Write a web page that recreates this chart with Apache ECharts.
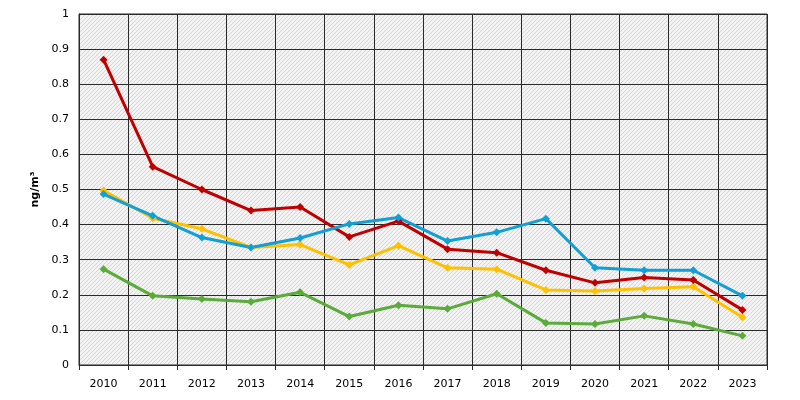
<!DOCTYPE html>
<html><head><meta charset="utf-8">
<script src="https://cdn.jsdelivr.net/npm/echarts@6/dist/echarts.min.js"></script>
<style>html,body{margin:0;padding:0;background:#fff}#c{width:800px;height:400px}</style>
</head><body><div id="c"></div>
<script>
const years = ['2010','2011','2012','2013','2014','2015','2016','2017','2018','2019','2020','2021','2022','2023'];
const redValues = [0.87,0.565,0.50,0.44,0.45,0.365,0.41,0.33,0.32,0.27,0.234,0.249,0.242,0.157];
const blueValues = [0.487,0.425,0.363,0.335,0.362,0.402,0.42,0.353,0.378,0.417,0.277,0.27,0.27,0.197];
const yellowValues = [0.497,0.418,0.388,0.335,0.343,0.285,0.34,0.277,0.273,0.214,0.211,0.218,0.223,0.136];
const greenValues = [0.273,0.197,0.188,0.18,0.207,0.138,0.17,0.16,0.203,0.12,0.117,0.14,0.117,0.083];
const yTicks = ['0','0.1','0.2','0.3','0.4','0.5','0.6','0.7','0.8','0.9','1'];

const pc = document.createElement('canvas');
pc.width = 4; pc.height = 4;
const g = pc.getContext('2d');
g.fillStyle = '#f3f3f3'; g.fillRect(0,0,4,4);
g.strokeStyle = '#d6d6d6'; g.lineWidth = 1;
g.beginPath();
g.moveTo(-1,5); g.lineTo(5,-1);
g.stroke();

const font = 'Verdana, "DejaVu Sans", sans-serif';
function mk(name, data, color){
  return {name, type:'line', data, symbol:'diamond', symbolSize:8,
    lineStyle:{color, width:3}, itemStyle:{color}, animation:false};
}
const chart = echarts.init(document.getElementById('c'));
chart.setOption({
  animation:false,
  grid:{left:79, right:33, top:14, bottom:35, show:true, backgroundColor:{image:pc, repeat:'repeat'}, borderColor:'#2a2a2a', borderWidth:1},
  xAxis:{type:'category', data:years, boundaryGap:true,
    axisLine:{lineStyle:{color:'#2a2a2a', width:1}},
    axisTick:{show:true, length:5, lineStyle:{color:'#2a2a2a'}},
    splitLine:{show:true, lineStyle:{color:'#2a2a2a', width:1}},
    axisLabel:{color:'#000', fontFamily:font, fontSize:11, margin:14}},
  yAxis:{type:'value', min:0, max:1, interval:0.1,
    name:'ng/m³', nameLocation:'middle', nameGap:36, nameRotate:90,
    nameTextStyle:{fontFamily:font, fontWeight:'bold', fontSize:11, color:'#000'},
    axisLine:{show:true, lineStyle:{color:'#2a2a2a'}},
    axisTick:{show:false},
    splitLine:{show:true, lineStyle:{color:'#2a2a2a', width:1}},
    axisLabel:{color:'#000', fontFamily:font, fontSize:11, margin:10,
      formatter:function(v){ return yTicks[Math.round(v*10)]; }}},
  series:[
    mk('green', greenValues, '#5aab3a'),
    mk('yellow', yellowValues, '#ffc000'),
    mk('red', redValues, '#c00000'),
    mk('blue', blueValues, '#119fd6')
  ]
});
</script></body></html>
